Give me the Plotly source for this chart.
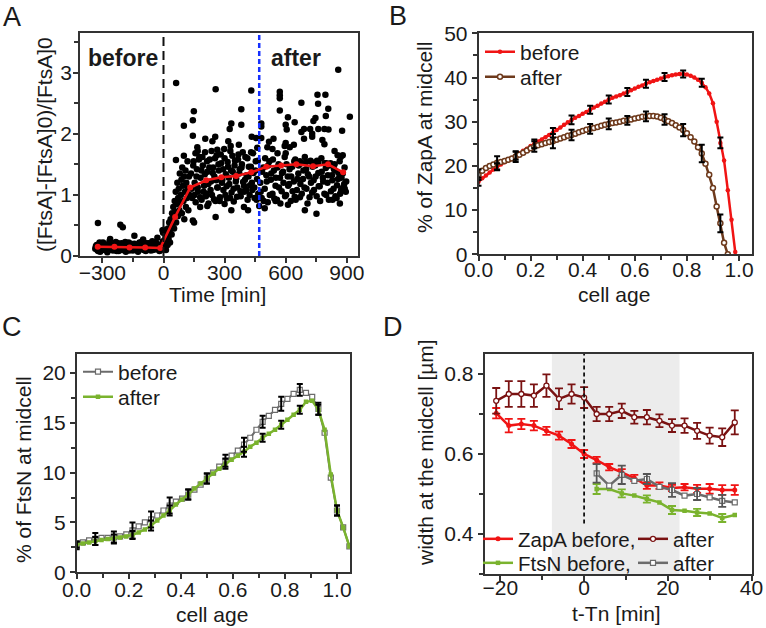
import plotly.graph_objects as go

W, H = 766, 628
FONT = "Liberation Sans"
TXT = "#1a1a1a"
AX = "#333333"

# ---------------- Panel A data ----------------
a_line_t = [-323, -241, -167, -90, -16, 57, 131, 210, 284, 357, 431, 505, 578, 652, 734, 808, 882]
a_line_y = [0.15, 0.15, 0.14, 0.14, 0.13, 0.64, 1.12, 1.24, 1.29, 1.31, 1.37, 1.46, 1.48, 1.50, 1.47, 1.50, 1.37]
a_induction_t = 0
a_after_t = 470

a_dots_before = [
    (-335,0.12),(-328,0.18),(-321,0.08),(-314,0.22),(-307,0.15),(-300,0.10),(-293,0.20),(-286,0.13),
    (-279,0.17),(-272,0.09),(-265,0.24),(-258,0.14),(-251,0.11),(-244,0.19),(-237,0.16),(-230,0.08),
    (-223,0.21),(-216,0.13),(-209,0.18),(-202,0.10),(-195,0.15),(-188,0.23),(-181,0.12),(-174,0.17),
    (-167,0.09),(-160,0.20),(-153,0.14),(-146,0.11),(-139,0.19),(-132,0.16),(-125,0.07),(-118,0.22),
    (-111,0.13),(-104,0.18),(-97,0.10),(-90,0.15),(-83,0.21),(-76,0.12),(-69,0.17),(-62,0.09),
    (-55,0.24),(-48,0.14),(-41,0.11),(-34,0.20),(-27,0.16),(-20,0.08),(-13,0.19),(-6,0.13),
    (-332,0.16),(-325,0.10),(-318,0.19),(-311,0.07),(-304,0.14),(-297,0.22),(-290,0.11),(-283,0.18),
    (-276,0.06),(-269,0.13),(-262,0.20),(-255,0.15),(-248,0.09),(-241,0.17),(-234,0.23),(-227,0.12),
    (-220,0.08),(-213,0.16),(-206,0.21),(-199,0.11),(-192,0.18),(-185,0.07),(-178,0.14),(-171,0.22),
    (-164,0.12),(-157,0.17),(-150,0.09),(-143,0.20),(-136,0.13),(-129,0.18),(-122,0.10),(-115,0.16),
    (-108,0.23),(-101,0.11),(-94,0.19),(-87,0.08),(-80,0.15),(-73,0.21),(-66,0.12),(-59,0.18),
    (-52,0.10),(-45,0.16),(-38,0.22),(-31,0.11),(-24,0.17),(-17,0.09),(-10,0.15),(-3,0.24),
    (-322,0.54),(-212,0.51),(-200,0.47),(-143,0.33),(-262,0.28),(-100,0.27),(-30,0.30),(-5,0.42),
]
a_dots_rise = [
    (-2,0.38),(2,0.43),(5,0.22),(8,0.15),(10,0.30),(12,0.10),(15,0.25),(18,0.35),(20,0.18),(22,0.45),
    (25,0.28),(28,0.55),(30,0.40),(32,0.22),(35,0.60),(38,0.48),(40,0.35),(42,0.70),(45,0.52),(48,0.80),
    (50,0.62),(52,0.45),(55,0.90),(58,0.72),(60,1.05),(62,0.55),(65,0.85),(68,1.20),(70,0.65),(72,0.95),
    (75,1.10),(78,0.75),(80,1.35),(82,0.88),(85,1.00),(88,1.25),(90,0.70),(92,1.45),(95,1.15),(98,0.90),
    (100,1.30),(102,0.60),(105,1.05),(108,1.40),(110,0.80),(112,1.20),(115,0.95),(118,1.55),(120,1.10),
    (122,0.75),(125,1.30),(128,1.00),
]
a_dots_mid = [
    (135,1.35),(139,1.10),(141,0.95),(146,1.48),(148,1.55),(152,1.00),(153,1.20),(157,1.68),(158,0.88),
    (162,1.30),(164,1.42),(168,1.12),(169,1.05),(174,1.58),(176,1.62),(180,0.96),(182,1.28),(186,1.40),
    (187,0.92),(191,1.62),(193,1.48),(197,1.05),(199,1.15),(203,1.34),(204,1.70),(208,0.98),(210,1.02),
    (214,1.55),(216,1.38),(220,1.18),(221,0.86),(225,1.45),(227,1.58),(231,1.08),(233,1.22),(236,1.72),
    (238,1.00),(242,1.36),(244,1.45),(248,0.93),(250,1.30),(253,1.60),(255,0.90),(259,1.24),(261,1.65),
    (264,1.12),(266,1.12),(270,1.50),(272,1.40),(276,0.90),(277,0.96),(281,1.66),(283,1.52),(287,1.20),
    (289,1.25),(293,1.42),(294,1.08),(298,1.75),(300,1.60),(304,1.00),(306,1.34),(310,1.14),(311,0.94),
    (315,1.54),(317,1.46),(321,1.28),(323,1.18),(327,0.95),(328,1.72),(332,1.40),(334,1.04),(338,1.64),
    (340,1.38),(344,1.10),(345,0.89),(349,1.48),(351,1.56),(355,1.22),(357,1.27),(361,0.97),(362,1.12),
    (366,1.58),(368,1.66),(372,1.35),(374,1.42),(378,1.06),(379,0.98),(383,1.45),(385,1.50),(389,1.70),
    (391,1.21),(395,1.15),(396,1.05),(400,1.25),(402,1.62),(406,1.08),(408,1.32),(412,1.60),(413,0.92),
    (417,1.30),(419,1.46),(423,1.00),(425,1.16),(429,1.46),(430,1.70),(434,1.20),(436,1.08),(440,1.68),
    (442,1.36),(446,1.12),(447,0.95),(451,1.40),(453,1.55),(457,0.92),(459,1.26),(463,1.56),(465,1.02),
    (62,2.83),(256,2.73),(431,2.71),(149,2.37),(382,2.40),(144,2.22),(100,2.13),(333,2.17),(325,2.08),
    (382,2.15),(144,1.97),(205,1.92),(254,1.95),(240,1.88),(318,1.88),(330,1.80),(370,1.82),(433,1.95),
    (166,1.78),(168,1.72),(264,1.74),(100,1.64),(61,1.57),(256,0.64),(333,0.75),(415,0.75),(144,0.58),
    (150,0.55),(180,0.80),(215,0.82),(300,0.85),(395,0.80),
]
a_dots_after = [
    (475,1.20),(477,1.05),(482,0.95),(484,1.38),(490,1.45),(492,0.90),(497,1.10),(499,1.60),(505,1.32),
    (507,1.22),(512,0.88),(514,1.48),(520,1.55),(522,1.00),(527,1.25),(529,1.35),(535,1.02),(537,1.58),
    (542,1.40),(544,0.94),(550,1.15),(552,1.28),(557,0.92),(559,1.45),(565,1.50),(567,1.12),(572,1.28),
    (574,0.86),(580,1.06),(582,1.36),(587,1.38),(589,1.20),(595,1.62),(597,0.98),(602,1.00),(604,1.50),
    (610,1.30),(612,1.15),(617,1.18),(619,1.42),(625,0.90),(627,1.30),(632,1.46),(634,1.06),(640,1.22),
    (642,1.55),(647,1.58),(649,0.92),(655,1.08),(657,1.26),(662,1.35),(664,1.48),(670,0.96),(672,1.18),
    (677,1.52),(679,1.02),(685,1.26),(687,1.40),(692,1.12),(694,1.62),(700,1.42),(702,1.10),(707,0.86),
    (709,1.34),(715,1.30),(717,0.96),(722,1.56),(724,1.20),(730,1.04),(732,1.46),(737,1.24),(739,1.08),
    (745,1.48),(747,1.30),(752,0.98),(754,1.56),(760,1.36),(762,1.14),(767,1.14),(769,0.90),(775,1.60),
    (777,1.38),(782,1.28),(784,1.22),(790,1.02),(792,1.52),(797,1.44),(799,1.00),(805,1.20),(807,1.32),
    (812,0.92),(814,1.48),(820,1.52),(822,1.06),(827,1.32),(829,1.24),(835,1.10),(837,1.42),(842,1.40),
    (844,0.98),(850,0.95),(852,1.16),(857,1.26),(859,1.36),(865,1.55),(867,1.02),(872,1.08),(874,1.28),
    (880,1.35),(882,1.12),(887,1.18),(889,1.45),(895,1.05),(897,1.22),
    (858,3.05),(571,2.69),(571,2.63),(571,2.58),(756,2.64),(795,2.64),(677,2.51),(759,2.49),(571,2.38),
    (809,2.41),(797,2.29),(915,2.28),(611,2.27),(644,2.19),(746,2.26),(736,2.21),(480,2.17),(480,2.12),
    (600,2.15),(605,2.07),(690,2.08),(720,2.08),(760,2.08),(790,2.08),(810,2.07),(677,2.03),(877,2.05),
    (455,1.93),(480,1.93),(540,1.92),(518,1.87),(600,1.85),(595,1.80),(620,1.78),(640,1.82),(690,1.92),
    (730,2.00),(730,1.95),(780,1.90),(790,1.83),(840,1.72),(855,1.65),(870,1.62),(460,1.77),(510,1.78),
    (535,1.75),(560,1.68),(600,1.68),(670,1.55),(700,1.54),(730,1.53),(760,1.54),(800,1.52),(840,1.50),
    (497,0.78),(611,0.84),(694,0.75),(751,0.69),(866,0.86),(644,0.97),(880,1.65),(890,1.10),(470,0.82),
    (462,0.95),(550,0.90),(830,0.92),
]

# ---------------- Panel B data ----------------
b_age = [k / 70 for k in range(70)]
b_before = [16.4, 17.2, 17.8, 18.5, 19.2, 19.8, 20.3, 20.8, 21.3, 21.8,
            22.3, 22.8, 23.4, 23.9, 24.5, 25.0, 25.5, 26.0, 26.5, 27.0,
            27.5, 28.1, 28.7, 29.3, 29.9, 30.4, 30.9, 31.3, 31.8, 32.2,
            32.7, 33.2, 33.6, 34.1, 34.5, 35.0, 35.4, 35.7, 36.0, 36.4,
            36.7, 37.1, 37.5, 37.9, 38.2, 38.6, 38.9, 39.2, 39.5, 39.8,
            40.1, 40.3, 40.5, 40.7, 40.8, 40.8, 40.7, 40.4, 40.0, 39.5,
            38.8, 37.8, 36.4, 34.2, 30.0, 25.2, 21.2, 14.5, 7.8, 0.5]
b_after = [18.0, 18.9, 19.5, 20.0, 20.3, 20.7, 20.9, 21.1, 21.4, 21.7,
           22.1, 22.5, 23.0, 23.5, 24.0, 24.4, 24.7, 24.9, 25.2, 25.4,
           25.6, 25.9, 26.2, 26.5, 26.8, 27.0, 27.3, 27.6, 27.9, 28.2,
           28.4, 28.6, 28.8, 29.1, 29.3, 29.5, 29.7, 29.8, 30.0, 30.2,
           30.3, 30.5, 30.7, 30.9, 31.1, 31.2, 31.3, 31.3, 31.2, 30.9,
           30.5, 30.1, 29.7, 29.2, 28.7, 28.1, 27.4, 26.5, 25.5, 24.2,
           22.8, 20.5, 18.0, 15.0, 10.8, 7.0, 2.6, 0.0]
b_err_step = 5
b_before_err = [0.9, 0.8, 0.9, 1.0, 1.1, 1.0, 0.9, 0.9, 0.9, 0.9, 0.9, 0.8, 0.9, 1.2]
b_after_err = [1.2, 1.5, 1.2, 1.2, 1.6, 1.2, 1.1, 1.2, 1.0, 1.1, 1.2, 1.4, 2.0, 2.0]

# ---------------- Panel C data ----------------
c_age = [k / 42 for k in range(45)]
c_before = [2.7, 3.0, 3.2, 3.35, 3.45, 3.45, 3.5, 3.6, 3.8, 4.2,
            4.6, 5.0, 5.3, 5.7, 6.2, 6.7, 7.1, 7.4, 7.8, 8.3,
            8.8, 9.4, 10.0, 10.6, 11.2, 11.7, 12.2, 12.8, 13.5, 14.3,
            15.1, 15.7, 16.3, 16.9, 17.4, 17.9, 18.3, 18.0, 17.6, 16.4,
            14.0, 9.5, 6.2, 4.5, 2.6]
c_after = [2.8, 2.9, 3.0, 3.15, 3.25, 3.35, 3.4, 3.5, 3.6, 3.75,
           4.0, 4.3, 4.7, 5.2, 5.7, 6.2, 6.8, 7.3, 7.8, 8.4,
           8.9, 9.4, 9.9, 10.4, 10.9, 11.3, 11.7, 12.1, 12.6, 13.0,
           13.5, 13.9, 14.3, 14.8, 15.3, 15.8, 16.3, 17.1, 17.2, 16.3,
           14.3, 9.8, 6.2, 4.5, 2.6]
c_err_step = 3
c_before_err = [0.4, 0.6, 0.6, 0.8, 0.8, 0.8, 0.5, 0.5, 0.6, 0.7, 0.6, 0.7, 0.6, 0.6, 0.5]
c_after_err = [0.3, 0.4, 0.4, 0.4, 0.5, 0.5, 0.5, 0.5, 0.5, 0.5, 0.4, 0.4, 0.4, 0.5, 0.5]

# ---------------- Panel D data ----------------
d_t_zapa = [-21, -18, -15, -12, -9, -6, -3, 0, 3, 6, 9, 12, 15, 18, 21, 24, 27, 30, 33, 36]
d_zapa_before = [0.702, 0.671, 0.675, 0.671, 0.658, 0.646, 0.625, 0.600, 0.585, 0.567,
                 0.554, 0.540, 0.521, 0.521, 0.515, 0.517, 0.513, 0.513, 0.510, 0.510]
d_zapa_before_err = [0.013, 0.017, 0.013, 0.012, 0.010, 0.010, 0.010, 0.010, 0.008, 0.008,
                     0.008, 0.008, 0.008, 0.008, 0.008, 0.008, 0.010, 0.012, 0.012, 0.012]
d_zapa_after = [0.733, 0.750, 0.750, 0.746, 0.771, 0.738, 0.750, 0.741, 0.700, 0.700,
                0.708, 0.692, 0.692, 0.683, 0.671, 0.671, 0.658, 0.646, 0.642, 0.679]
d_zapa_after_err = [0.032, 0.032, 0.032, 0.028, 0.028, 0.026, 0.024, 0.026, 0.018, 0.018,
                    0.018, 0.016, 0.018, 0.016, 0.016, 0.018, 0.020, 0.020, 0.022, 0.030]
d_t_ftsn = [3, 6, 9, 12, 15, 18, 21, 24, 27, 30, 33, 36]
d_ftsn_before = [0.5125, 0.5125, 0.5015, 0.496, 0.4875, 0.479, 0.460, 0.458, 0.454, 0.4515, 0.440, 0.4475]
d_ftsn_before_err = [0.0125, 0.010, 0.009, 0.010, 0.009, 0.010]
d_ftsn_after = [0.5515, 0.521, 0.548, 0.533, 0.5375, 0.518, 0.510, 0.496, 0.500, 0.4915, 0.483, 0.479]
d_ftsn_after_err = [0.023, 0.023, 0.0125, 0.017, 0.015, 0.015]
d_shade = [-7.7, 22.8]
d_tn = 0

# ---------------- colours ----------------
RED = "#f01414"
BROWN = "#6e3a1c"
GRAY = "#6b6b6b"
GREEN = "#7ab32e"
DARKRED = "#7a1212"


def px_x(p):
    return p / W


def px_y(p):
    return 1 - p / H


fig = go.Figure()

# ---------------- Panel A ----------------
for grp in (a_dots_before, a_dots_rise, a_dots_mid, a_dots_after):
    fig.add_trace(go.Scatter(
        x=[p[0] for p in grp], y=[p[1] for p in grp], mode="markers",
        marker=dict(color="black", size=6.5, line=dict(width=0)),
        showlegend=False, xaxis="x", yaxis="y", hoverinfo="skip"))
fig.add_trace(go.Scatter(
    x=a_line_t, y=a_line_y, mode="lines+markers",
    line=dict(color=RED, width=2.5), marker=dict(color=RED, size=6),
    showlegend=False, xaxis="x", yaxis="y"))

# ---------------- Panel B ----------------
fig.add_trace(go.Scatter(
    x=b_age[:len(b_before)], y=b_before, mode="lines+markers", name="before",
    line=dict(color=RED, width=2.5), marker=dict(color=RED, size=4.5, symbol="circle"),
    xaxis="x2", yaxis="y2", legend="legend"))
fig.add_trace(go.Scatter(
    x=b_age[:len(b_after)], y=b_after, mode="lines+markers", name="after",
    line=dict(color=BROWN, width=2.5),
    marker=dict(color="white", size=5, symbol="circle", line=dict(color=BROWN, width=1.5)),
    xaxis="x2", yaxis="y2", legend="legend2"))
for vals, errs in ((b_before, b_before_err), (b_after, b_after_err)):
    idx = [i * b_err_step for i in range(len(errs))]
    fig.add_trace(go.Scatter(
        x=[b_age[i] for i in idx], y=[vals[i] for i in idx], mode="markers",
        marker=dict(size=1, color="rgba(0,0,0,0)"),
        error_y=dict(type="data", array=errs, color="black", thickness=2, width=3),
        showlegend=False, xaxis="x2", yaxis="y2", hoverinfo="skip"))

# ---------------- Panel C ----------------
fig.add_trace(go.Scatter(
    x=c_age, y=c_before, mode="lines+markers", name="before",
    line=dict(color=GRAY, width=2),
    marker=dict(color="white", size=5, symbol="square", line=dict(color=GRAY, width=1.2)),
    xaxis="x3", yaxis="y3", legend="legend3"))
fig.add_trace(go.Scatter(
    x=c_age, y=c_after, mode="lines+markers", name="after",
    line=dict(color=GREEN, width=2.5),
    marker=dict(color=GREEN, size=4.5, symbol="square"),
    xaxis="x3", yaxis="y3", legend="legend4"))
for vals, errs in ((c_before, c_before_err), (c_after, c_after_err)):
    idx = [i * c_err_step for i in range(len(errs))]
    fig.add_trace(go.Scatter(
        x=[c_age[i] for i in idx], y=[vals[i] for i in idx], mode="markers",
        marker=dict(size=1, color="rgba(0,0,0,0)"),
        error_y=dict(type="data", array=errs, color="black", thickness=2, width=3),
        showlegend=False, xaxis="x3", yaxis="y3", hoverinfo="skip"))

# ---------------- Panel D ----------------
fig.add_trace(go.Scatter(
    x=d_t_zapa, y=d_zapa_before, mode="lines+markers", name="ZapA before,",
    line=dict(color=RED, width=2.5), marker=dict(color=RED, size=5),
    error_y=dict(type="data", array=d_zapa_before_err, color=RED, thickness=1.8, width=4),
    xaxis="x4", yaxis="y4", legend="legend5"))
fig.add_trace(go.Scatter(
    x=d_t_zapa, y=d_zapa_after, mode="lines+markers", name="after",
    line=dict(color=DARKRED, width=2.5),
    marker=dict(color="white", size=5, line=dict(color=DARKRED, width=1.3)),
    error_y=dict(type="data", array=d_zapa_after_err, color=DARKRED, thickness=1.8, width=4),
    xaxis="x4", yaxis="y4", legend="legend6"))
fig.add_trace(go.Scatter(
    x=d_t_ftsn, y=d_ftsn_before, mode="lines+markers", name="FtsN before,",
    line=dict(color=GREEN, width=2.5), marker=dict(color=GREEN, size=4.5, symbol="square"),
    xaxis="x4", yaxis="y4", legend="legend7"))
fig.add_trace(go.Scatter(
    x=d_t_ftsn, y=d_ftsn_after, mode="lines+markers", name="after",
    line=dict(color=GRAY, width=2.5),
    marker=dict(color="white", size=5, symbol="square", line=dict(color=GRAY, width=1.2)),
    xaxis="x4", yaxis="y4", legend="legend8"))
for tt, vals, errs, col in ((d_t_ftsn, d_ftsn_before, d_ftsn_before_err, GREEN),
                            (d_t_ftsn, d_ftsn_after, d_ftsn_after_err, "#555555")):
    fig.add_trace(go.Scatter(
        x=tt[::2], y=vals[::2], mode="markers",
        marker=dict(size=1, color="rgba(0,0,0,0)"),
        error_y=dict(type="data", array=errs, color=col, thickness=1.8, width=4),
        showlegend=False, xaxis="x4", yaxis="y4", hoverinfo="skip"))

# ---------------- axes ----------------
# n: x-domain px, y-domain px (top, bottom), x range, y range, x dtick, x minor, x tick0, x format,
#    y dtick, y minor, y tick0, y format, x label standoff, y label standoff
panels = {
    1: ((80, 358), (33, 256), [-410, 955], [0, 3.65], 300, 150, 0, "d", 1, 0.5, 0, "d", -8, -3),
    2: ((478.5, 752), (33.3, 254.3), [0, 1.05], [0, 50], 0.2, 0.1, 0, ".1f", 10, 5, 0, "d", -9, 0),
    3: ((76.7, 350), (354, 572.3), [0, 1.05], [0, 21.9], 0.2, 0.1, 0, ".1f", 5, 2.5, 0, "d", -7, 0),
    4: ((484.5, 751.5), (354, 574), [-23.8, 40], [0.3, 0.85], 20, 10, 0, "d", 0.2, 0.1, 0.4, ".1f", -11, 0),
}
layout_axes = {}
for n, (xd, yd, xr, yr, xdt, xmn, x0, xf, ydt, ymn, y0, yf, xso, yso) in panels.items():
    xid = "x" if n == 1 else f"x{n}"
    yid = "y" if n == 1 else f"y{n}"
    xk = "xaxis" if n == 1 else f"xaxis{n}"
    yk = "yaxis" if n == 1 else f"yaxis{n}"
    common = dict(showgrid=False, zeroline=False, tickcolor=AX, tickwidth=1.5, automargin=False,
                  tickfont=dict(family=FONT, size=21, color=TXT))
    layout_axes[xk] = dict(
        domain=[px_x(xd[0]), px_x(xd[1])], range=xr, anchor=yid,
        showline=True, mirror=True, linecolor=AX, linewidth=1.5,
        ticks="outside", ticklen=5, dtick=xdt, tick0=x0, tickformat=xf, ticklabelstandoff=xso,
        minor=dict(dtick=xmn, tick0=x0, ticks="outside", ticklen=4, tickwidth=1.5, tickcolor=AX),
        **common)
    layout_axes[yk] = dict(
        domain=[px_y(yd[1]), px_y(yd[0])], range=yr, anchor=xid,
        showline=True, mirror=True, linecolor=AX, linewidth=1.5,
        ticks="outside", ticklen=5, dtick=ydt, tick0=y0, tickformat=yf, ticklabelstandoff=yso,
        minor=dict(dtick=ymn, tick0=y0, ticks="outside", ticklen=4, tickwidth=1.5, tickcolor=AX),
        **common)
    layout_axes[f"xaxis{n + 4}"] = dict(
        overlaying=xid, side="top", anchor=yid, range=xr, showline=False,
        ticks="inside", ticklen=5, dtick=xdt, tick0=x0, showticklabels=False,
        minor=dict(dtick=xmn, tick0=x0, ticks="inside", ticklen=4, tickwidth=1.5, tickcolor=AX),
        **common)
    layout_axes[f"yaxis{n + 4}"] = dict(
        overlaying=yid, side="right", anchor=xid, range=yr, showline=False,
        ticks="inside", ticklen=5, dtick=ydt, tick0=y0, showticklabels=False,
        minor=dict(dtick=ymn, tick0=y0, ticks="inside", ticklen=4, tickwidth=1.5, tickcolor=AX),
        **common)

# ---------------- shapes ----------------
shapes = [
    dict(type="rect", xref="x4", yref="y4 domain", x0=d_shade[0], x1=d_shade[1], y0=0, y1=1,
         fillcolor="#ececec", line=dict(width=0), layer="below"),
    dict(type="line", xref="x4", yref="y4", x0=d_tn, x1=d_tn, y0=0.426, y1=0.85,
         line=dict(color="#111", width=1.8, dash="4px,3px")),
    dict(type="line", xref="x", yref="y domain", x0=a_induction_t, x1=a_induction_t, y0=0, y1=1,
         line=dict(color="#111", width=2, dash="9px,5px")),
    dict(type="line", xref="x", yref="y domain", x0=a_after_t, x1=a_after_t, y0=0, y1=1,
         line=dict(color="#1530ff", width=2.5, dash="5px,3px")),
]


def ann(text, cx, cy, size=21, angle=0, bold=False):
    return dict(text=f"<b>{text}</b>" if bold else text, x=px_x(cx), y=px_y(cy),
                xref="paper", yref="paper", xanchor="center", yanchor="middle",
                showarrow=False, textangle=angle,
                font=dict(family=FONT, size=size, color=TXT))


annotations = [
    ann("A", 12, 17, 27), ann("B", 398, 16, 27), ann("C", 12, 327, 27), ann("D", 393, 327, 27),
    ann("before", 123, 58, 23, bold=True), ann("after", 296, 58, 23, bold=True),
    ann("([FtsA]-[FtsA]0)/[FtsA]0", 44, 145, 21, -90),
    ann("Time [min]", 218, 294, 21),
    ann("% of ZapA at midcell", 424, 138, 21, -90),
    ann("cell age", 614, 294, 21),
    ann("% of FtsN at midcell", 24, 470, 21, -90),
    ann("cell age", 212, 614, 21),
    ann("width at the midcell [µm]", 425, 453, 21, -90),
    ann("t-Tn [min]", 616, 613, 21),
]


def leg(lx, cy, size=21):
    return dict(x=px_x(lx), y=px_y(cy), xanchor="left", yanchor="middle",
                xref="paper", yref="paper", bgcolor="rgba(0,0,0,0)", borderwidth=0,
                font=dict(family=FONT, size=size, color=TXT), itemwidth=30,
                tracegroupgap=0, orientation="v")


legends = dict(
    legend=leg(480, 52), legend2=leg(480, 77),
    legend3=leg(78, 372), legend4=leg(78, 397),
    legend5=leg(478, 539, 20.5), legend6=leg(633, 539, 20.5),
    legend7=leg(478, 563, 20.5), legend8=leg(633, 563, 20.5),
)

fig.update_layout(
    template="none",
    width=W, height=H, autosize=False,
    margin=dict(l=0, r=0, t=0, b=0, pad=0, autoexpand=False),
    paper_bgcolor="white", plot_bgcolor="rgba(0,0,0,0)",
    font=dict(family=FONT, size=21, color=TXT),
    shapes=shapes, annotations=annotations,
    **layout_axes, **legends,
)

fig.write_html("out.html", config={"displayModeBar": False},
               post_script="document.body.style.margin='0';document.body.style.overflow='hidden';")
